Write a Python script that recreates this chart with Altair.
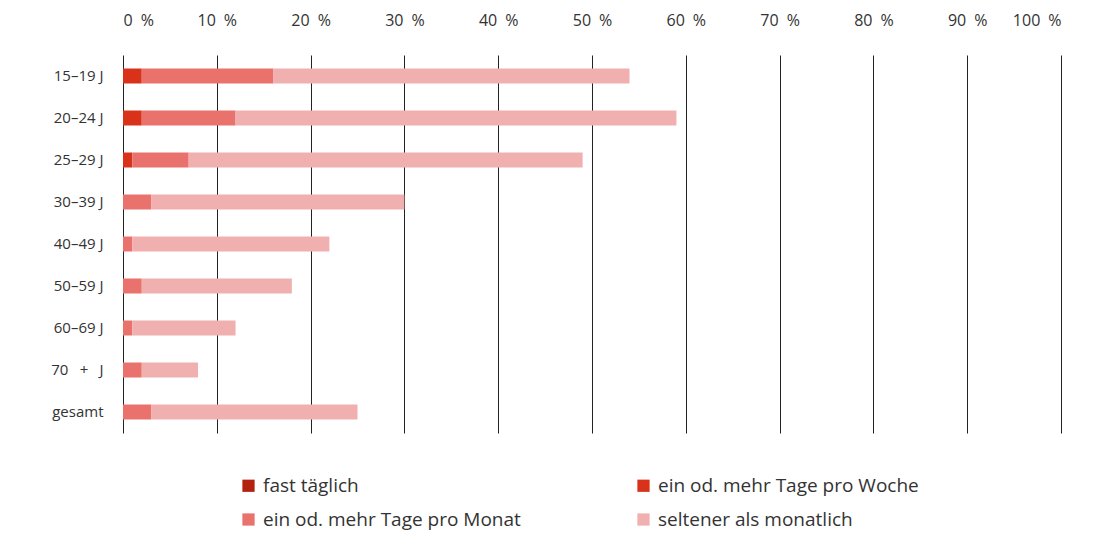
import altair as alt
import pandas as pd

groups = ["15–19 J", "20–24 J", "25–29 J", "30–39 J", "40–49 J", "50–59 J", "60–69 J", "70\u2002\u2005+\u2002\u2005J", "gesamt"]
series = ["fast täglich", "ein od. mehr Tage pro Woche", "ein od. mehr Tage pro Monat", "seltener als monatlich"]
colors = ["#B3210F", "#D9321A", "#E9736C", "#F0B0AF"]

fast_taeglich = [0, 0, 0, 0, 0, 0, 0, 0, 0]
pro_woche = [2, 2, 1, 0, 0, 0, 0, 0, 0]
pro_monat = [14, 10, 6, 3, 1, 2, 1, 2, 3]
seltener = [38, 47, 42, 27, 21, 16, 11, 6, 22]

vals = [fast_taeglich, pro_woche, pro_monat, seltener]
rows = []
for si, s in enumerate(series):
    for gi, g in enumerate(groups):
        rows.append({"Gruppe": g, "Kategorie": s, "Wert": vals[si][gi], "ord": si})
df = pd.DataFrame(rows)

# legend fills column by column: order entries so rows read like the reference
legend_order = [0, 2, 1, 3]
dom = [series[i] for i in legend_order]
rng = [colors[i] for i in legend_order]

FONT = "Open Sans"

chart = alt.Chart(df).mark_bar(size=15).encode(
    y=alt.Y("Gruppe:N", sort=groups, title=None,
            scale=alt.Scale(paddingOuter=0, paddingInner=0),
            axis=alt.Axis(ticks=False, domain=False, labelPadding=20, labelFontSize=15,
                          labelFont=FONT, labelColor="#333333")),
    x=alt.X("Wert:Q", stack="zero", title=None,
            scale=alt.Scale(domain=[0, 100], nice=False),
            axis=alt.Axis(orient="top", values=list(range(0, 101, 10)),
                          labelExpr="datum.value + '\u2002%'",
                          ticks=False, domain=False, grid=True, gridColor="#222222", gridWidth=1,
                          labelPadding=27, labelFontSize=16, labelFont=FONT, labelColor="#333333")),
    color=alt.Color("Kategorie:N", scale=alt.Scale(domain=dom, range=rng), title=None,
                    legend=alt.Legend(orient="none", legendX=116, legendY=421, columns=2,
                                      symbolType="square", symbolSize=150, symbolStrokeWidth=0,
                                      labelFontSize=19, labelFont=FONT, labelColor="#333333",
                                      labelLimit=400,
                                      columnPadding=113, rowPadding=14, labelOffset=5)),
    order=alt.Order("ord:Q"),
).properties(
    width=938, height=378,
    autosize=alt.AutoSizeParams(type="none"),
    padding={"left": 115, "top": 47, "right": 30, "bottom": 110},
).configure_view(stroke=None)

chart.save("out.html", embed_options={"renderer": "svg", "actions": False})
